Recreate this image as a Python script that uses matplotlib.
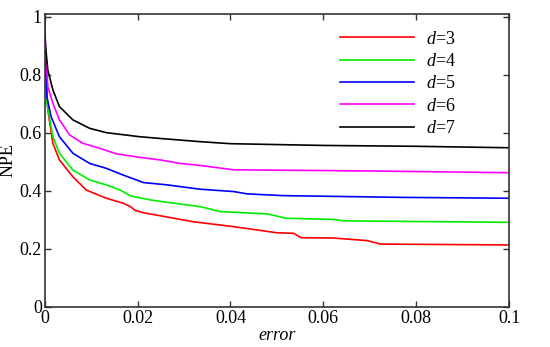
import numpy as np
import matplotlib
matplotlib.use("Agg")
import matplotlib.pyplot as plt

plt.rcParams['font.family'] = 'serif'
plt.rcParams['font.serif'] = ['Liberation Serif', 'Times New Roman', 'DejaVu Serif']
plt.rcParams['mathtext.fontset'] = 'custom'
plt.rcParams['mathtext.rm'] = 'Liberation Serif'
plt.rcParams['mathtext.it'] = 'Liberation Serif:italic'

# values
x_d3 = [0, 0.0002, 0.0007, 0.0018, 0.0032, 0.0061, 0.009, 0.0133, 0.0169, 0.0185, 0.0195,
        0.0213, 0.032, 0.0407, 0.050, 0.0536, 0.0552, 0.062, 0.0694, 0.0723, 0.1]
y_d3 = [1.0, 0.84, 0.678, 0.563, 0.506, 0.448, 0.402, 0.374, 0.357, 0.345, 0.332,
        0.324, 0.293, 0.276, 0.255, 0.253, 0.238, 0.237, 0.228, 0.216, 0.213]

x_d4 = [0, 0.0002, 0.0005, 0.0018, 0.0032, 0.0061, 0.0097, 0.0133, 0.0163, 0.0185,
        0.0228, 0.0278, 0.0335, 0.0378, 0.0479, 0.052, 0.062, 0.0645, 0.1]
y_d4 = [1.0, 0.86, 0.701, 0.586, 0.529, 0.471, 0.437, 0.42, 0.402, 0.382,
        0.368, 0.357, 0.345, 0.328, 0.32, 0.305, 0.301, 0.296, 0.291]

x_d5 = [0, 0.0002, 0.0005, 0.0014, 0.0032, 0.0061, 0.0097, 0.0133, 0.0169, 0.0213,
        0.0264, 0.0335, 0.0407, 0.0436, 0.0514, 0.0766, 0.1]
y_d5 = [1.0, 0.87, 0.724, 0.655, 0.586, 0.529, 0.494, 0.477, 0.454, 0.428,
        0.42, 0.405, 0.397, 0.389, 0.383, 0.377, 0.374]

x_d6 = [0, 0.0002, 0.0007, 0.0018, 0.0032, 0.0054, 0.0083, 0.0119, 0.0155, 0.0205,
        0.0249, 0.0292, 0.0335, 0.0407, 0.07, 0.1]
y_d6 = [1.0, 0.89, 0.759, 0.701, 0.644, 0.592, 0.563, 0.546, 0.527, 0.515,
        0.506, 0.494, 0.487, 0.472, 0.468, 0.462]

x_d7 = [0, 0.0002, 0.0007, 0.0018, 0.0032, 0.0061, 0.0097, 0.0133, 0.0205, 0.0249,
        0.0335, 0.04, 0.06, 0.08, 0.1]
y_d7 = [1.0, 0.90, 0.816, 0.747, 0.69, 0.644, 0.615, 0.60, 0.586, 0.58,
        0.569, 0.562, 0.556, 0.553, 0.548]

series = [(x_d3, y_d3, '#ff0000', 3), (x_d4, y_d4, '#00ee00', 4),
          (x_d5, y_d5, '#0000ff', 5), (x_d6, y_d6, '#ff00ff', 6),
          (x_d7, y_d7, '#000000', 7)]

fig = plt.figure(figsize=(5.5, 3.47), dpi=100)
ax = fig.add_axes([0.081, 0.116, 0.845, 0.8428])

for xs, ys, c, d in series:
    ax.plot(xs, ys, color=c, lw=1.2, label=r'$\it{d}$=%d' % d)

ax.set_xlim(0, 0.1)
ax.set_ylim(0, 1.008)
ax.set_xticks([0, 0.02, 0.04, 0.06, 0.08, 0.1])
ax.set_xticklabels(['0', '0.02', '0.04', '0.06', '0.08', '0.1'])
ax.set_yticks([0, 0.2, 0.4, 0.6, 0.8, 1])
ax.set_yticklabels(['0', '0.2', '0.4', '0.6', '0.8', '1'])
ax.tick_params(direction='in', top=True, right=True, length=4, width=1,
               labelsize=13, colors='#333333', labelcolor='black', pad=2)
for s in ax.spines.values():
    s.set_color('#333333')
    s.set_linewidth(1.2)

ax.set_xlabel('error', fontsize=13, style='italic', labelpad=0)
ax.set_ylabel('NPE', fontsize=13, labelpad=2)

ax.legend(loc='upper left', bbox_to_anchor=(0.6, 1.0), frameon=False,
          fontsize=13, handlelength=4.1, handletextpad=0.7, labelspacing=0.3)

fig.savefig('out.png', dpi=100)
